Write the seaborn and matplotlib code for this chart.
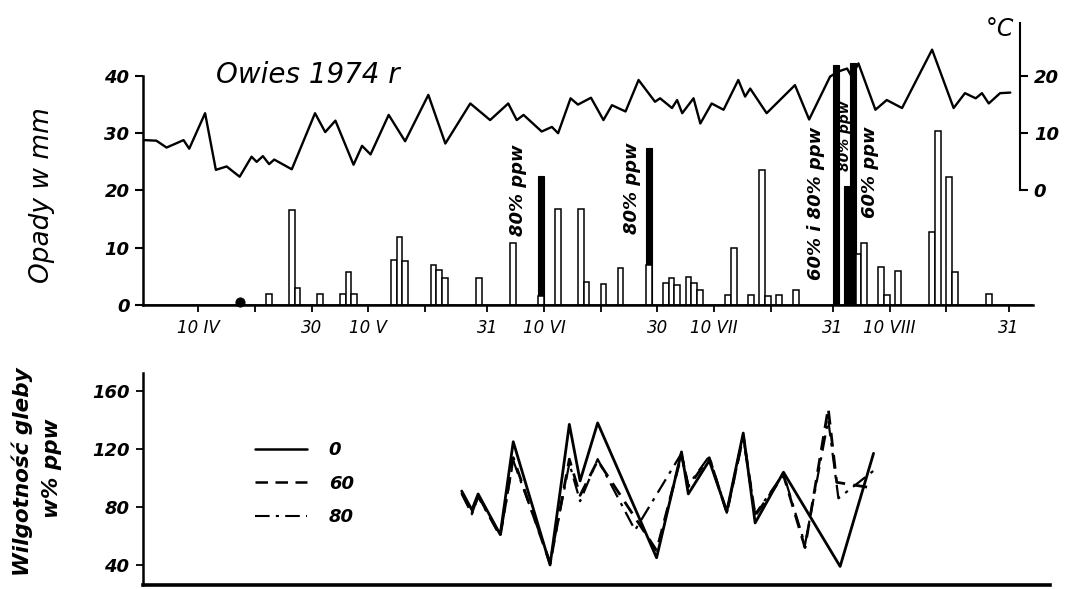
import matplotlib
matplotlib.use("Agg")
import matplotlib.pyplot as plt
import seaborn as sns
from matplotlib.lines import Line2D

# ---------------- data ----------------
# day number: 1 = 1 April 1974
temp_days = [0.4, 2.6, 4.4, 7.4, 8.4, 11.2, 13.1, 15.0, 17.3, 19.4, 20.3, 21.4, 22.5, 23.4,
             26.5, 30.6, 32.4, 34.2, 37.4, 38.9, 40.4, 43.6, 46.5, 50.6, 53.6, 58.0, 61.5,
             64.7, 66.2, 67.4, 70.6, 72.4, 73.5, 75.7, 77.0, 79.3, 81.5, 83.0, 85.4, 87.7,
             90.6, 91.5, 93.6, 94.5, 95.4, 97.4, 98.6, 100.6, 102.7, 105.3, 106.5, 107.4,
             110.3, 115.3, 117.8, 121.5, 123.0, 124.5, 125.3, 126.5, 129.5, 131.5, 134.2,
             139.5, 143.3, 145.3, 147.2, 148.3, 149.5, 151.5, 153.3]
temp_c = [8.8, 8.7, 7.5, 8.8, 7.3, 13.5, 3.6, 4.2, 2.4, 5.9, 5.0, 6.0, 4.6, 5.4,
          3.7, 13.5, 10.2, 12.2, 4.5, 7.8, 6.3, 13.2, 8.6, 16.7, 8.2, 15.2, 12.3,
          15.2, 12.3, 13.2, 10.3, 11.1, 10.0, 16.1, 15.0, 16.2, 12.3, 14.9, 13.8, 19.3,
          15.5, 16.1, 14.4, 15.8, 13.5, 16.1, 11.7, 15.2, 14.1, 19.3, 16.4, 17.8,
          13.5, 18.4, 12.4, 19.9, 20.8, 21.3, 19.9, 22.2, 14.1, 15.8, 14.4,
          24.6, 14.4, 17.0, 16.1, 17.0, 15.2, 17.0, 17.1]

rain_days = [22, 26, 27, 31, 35, 36, 37, 44, 45, 46, 51, 52, 53, 59, 65, 70, 73, 77, 78,
             81, 84, 89, 92, 93, 94, 96, 97, 98, 103, 104, 107, 109, 110, 112, 115,
             126, 127, 130, 131, 133, 139, 140, 142, 143, 149]
rain_mm = [1.9, 16.6, 2.9, 2.0, 2.0, 5.7, 1.9, 7.9, 11.8, 7.6, 6.9, 6.1, 4.8, 4.7, 10.9, 1.6,
           16.7, 16.7, 4.0, 3.6, 6.5, 7.0, 3.8, 4.7, 3.5, 4.9, 3.8, 2.7, 1.7, 10.0, 1.7,
           23.5, 1.5, 1.7, 2.6, 8.9, 10.8, 6.7, 1.7, 6.0, 12.8, 30.4, 22.4, 5.8, 1.9]
trace_days = [17.4]
trace_mm = [0.5]

irr_days = [70, 89, 122, 124, 125]
irr_mm = [22.5, 27.5, 41.9, 20.7, 42.2]

tick_days = [10, 20, 30, 40, 50, 61, 71, 81, 91, 101, 111, 122, 132, 142, 153]
tick_labels = ["10 IV", "", "30", "10 V", "", "31", "10 VI", "", "30", "10 VII", "",
               "31", "10 VIII", "", "31"]

soil_days_0 = [56.5, 58.3, 59.4, 63.3, 65.6, 72.1, 75.5, 77.4, 80.5, 90.9, 95.3, 96.5,
               100.2, 103.3, 106.2, 108.3, 113.3, 123.3, 129.2]
soil_0 = [91, 78, 89, 61, 125, 40, 137, 98, 138, 45, 118, 89, 112, 77, 131, 69, 104, 39, 117]

soil_days_60 = [56.5, 58.3, 59.4, 63.3, 65.6, 72.1, 75.5, 77.4, 80.5, 90.9, 95.3, 96.5,
                100.2, 103.3, 106.2, 108.3, 113.3, 117.1, 121.2, 122.7, 129.2]
soil_60 = [90, 76, 88, 60, 114, 41, 113, 88, 112, 50, 116, 94, 114, 76, 129, 74, 102, 52,
           148, 97, 93]

soil_days_80 = [56.5, 58.3, 59.4, 63.3, 65.6, 72.1, 75.5, 77.4, 80.5, 87.1, 95.3, 96.5,
                100.2, 103.3, 106.2, 108.3, 113.3, 117.1, 121.2, 123.0, 129.2]
soil_80 = [89, 75, 87, 60, 112, 42, 110, 84, 113, 64, 117, 95, 115, 76, 128, 75, 103, 54,
           140, 86, 105]

soil_labels = ["0", "60", "80"]

# ---------------- style ----------------
sns.set_style("white")
plt.rcParams["font.family"] = ["DejaVu Sans"]
plt.rcParams["text.color"] = "black"
plt.rcParams["axes.labelcolor"] = "black"
plt.rcParams["xtick.color"] = "black"
plt.rcParams["ytick.color"] = "black"

fig = plt.figure(figsize=(10.66, 5.89), dpi=100)

# ---------- top panel ----------
ax = fig.add_axes([0.1344, 0.4822, 0.8346, 0.4788])
sns.histplot(x=irr_days, weights=irr_mm, binwidth=1, binrange=(0, 160),
             color="black", edgecolor="black", linewidth=0.8, alpha=1, ax=ax)
sns.histplot(x=rain_days, weights=rain_mm, binwidth=1, binrange=(0, 160),
             color="white", edgecolor="black", linewidth=1.1, alpha=1, ax=ax)
sns.scatterplot(x=trace_days, y=trace_mm, color="black", s=45, ax=ax, zorder=6,
                clip_on=False, edgecolor="black")

ax.set_xlim(0.29, 157.3)
ax.set_ylim(0, 49.26)
ax.set_xlabel("")
ax.set_ylabel("")
for s in ["top", "right"]:
    ax.spines[s].set_visible(False)
ax.spines["left"].set_bounds(0, 40)
ax.spines["left"].set_linewidth(1.8)
ax.spines["bottom"].set_linewidth(1.8)
ax.spines["left"].set_color("black")
ax.spines["bottom"].set_color("black")
ax.set_yticks([0, 10, 20, 30, 40])
ax.set_yticklabels(["0", "10", "20", "30", "40"])
ax.set_xticks(tick_days)
ax.set_xticklabels(tick_labels)
ax.tick_params(axis="y", direction="out", length=6, width=1.5, labelsize=13, pad=4,
               left=True, colors="black")
ax.tick_params(axis="x", direction="out", length=5, width=1.3, labelsize=12, pad=5,
               bottom=True, colors="black")
for lb in ax.get_yticklabels():
    lb.set_fontstyle("italic"); lb.set_fontweight("bold")
for lb in ax.get_xticklabels():
    lb.set_fontstyle("italic")

# temperature on twin axis
axt = ax.twinx()
sns.lineplot(x=temp_days, y=temp_c, color="black", linewidth=1.7, ax=axt, sort=False)
axt.set_ylim(-20, 29.26)
axt.set_xlim(0.29, 157.3)
axt.set_ylabel("")
for s in ["top", "left", "bottom"]:
    axt.spines[s].set_visible(False)
axt.spines["right"].set_position(("data", 155.0))
axt.spines["right"].set_bounds(0, 29.3)
axt.spines["right"].set_linewidth(1.5)
axt.spines["right"].set_color("black")
axt.set_yticks([0, 10, 20])
axt.set_yticklabels(["0", "10", "20"])
axt.tick_params(axis="y", direction="out", length=6, width=1.5, labelsize=13, pad=4,
                right=True, colors="black")
for lb in axt.get_yticklabels():
    lb.set_fontstyle("italic"); lb.set_fontweight("bold")

# irrigation annotations
ann = dict(rotation=90, ha="center", va="center", fontstyle="italic",
           fontweight="bold", color="black")
ax.text(66.4, 20.1, "80% ppw", fontsize=13, **ann)
ax.text(86.5, 20.4, "80% ppw", fontsize=13, **ann)
ax.text(119.0, 17.8, "60% i 80% ppw", fontsize=13, **ann)
ax.text(124.1, 29.5, "80% ppw", fontsize=10, **ann)
ax.text(128.6, 23.2, "60% ppw", fontsize=13, **ann)

fig.text(0.289, 0.873, "Owies 1974 r", fontsize=20, fontstyle="italic",
         ha="center", va="center")
fig.text(0.938, 0.950, "°C", fontsize=17, fontstyle="italic", ha="center", va="center")
fig.text(0.039, 0.669, "Opady w mm", fontsize=19, fontstyle="italic", rotation=90,
         ha="center", va="center")

# ---------- bottom panel ----------
ax2 = fig.add_axes([0.1344, 0.0068, 0.8506, 0.3599])
sns.lineplot(x=soil_days_0, y=soil_0, color="black", linewidth=2.0, ax=ax2,
             linestyle="-", sort=False)
sns.lineplot(x=soil_days_60, y=soil_60, color="black", linewidth=2.0, ax=ax2,
             linestyle=(0, (5, 3)), sort=False)
sns.lineplot(x=soil_days_80, y=soil_80, color="black", linewidth=1.6, ax=ax2,
             linestyle=(0, (7, 3, 1.5, 3)), sort=False)
ax2.set_xlim(0.29, 160.35)
ax2.set_ylim(26.2, 172.4)
ax2.set_xlabel("")
ax2.set_ylabel("")
for s in ["top", "right"]:
    ax2.spines[s].set_visible(False)
ax2.spines["left"].set_linewidth(1.8)
ax2.spines["bottom"].set_linewidth(2.6)
ax2.spines["left"].set_color("black")
ax2.spines["bottom"].set_color("black")
ax2.set_xticks([])
ax2.set_yticks([40, 80, 120, 160])
ax2.set_yticklabels(["40", "80", "120", "160"])
ax2.tick_params(axis="y", direction="out", length=5, width=1.3, labelsize=13, pad=5,
                left=True, colors="black")
for lb in ax2.get_yticklabels():
    lb.set_fontstyle("italic"); lb.set_fontweight("bold")

handles = [Line2D([], [], color="black", lw=1.8, linestyle="-"),
           Line2D([], [], color="black", lw=1.8, linestyle=(0, (5, 3))),
           Line2D([], [], color="black", lw=1.5, linestyle=(0, (7, 3, 1.5, 3)))]
leg = ax2.legend(handles, soil_labels, loc="upper left", bbox_to_anchor=(0.113, 0.72),
                 frameon=False, handlelength=2.9, handletextpad=1.2, labelspacing=0.85,
                 borderpad=0, prop={"size": 13, "style": "italic", "weight": "bold"})

fig.text(0.021, 0.20, "Wilgotność gleby", fontsize=15.5, fontstyle="italic",
         fontweight="bold", rotation=90, ha="center", va="center")
fig.text(0.049, 0.205, "w% ppw", fontsize=15.5, fontstyle="italic",
         fontweight="bold", rotation=90, ha="center", va="center")

fig.savefig("out.png", dpi=100)
